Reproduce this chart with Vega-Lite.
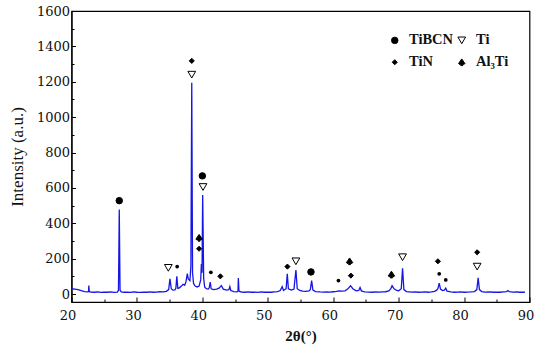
{
  "$schema": "https://vega.github.io/schema/vega-lite/v6.json",
  "width": 458,
  "height": 291,
  "autosize": {"type": "none"},
  "padding": {"left": 71.5, "top": 11, "right": 20.5, "bottom": 49},
  "background": "white",
  "config": {
    "font": "Liberation Serif",
    "view": {"stroke": "black", "strokeWidth": 1.2},
    "axis": {"domainColor": "black", "tickColor": "black", "labelColor": "#111", "titleColor": "#111", "labelFont": "DejaVu Serif", "titleFont": "Liberation Serif", "grid": false}
  },
  "datasets": {
    "xrd": [
      {"x": 20.0, "y": 30}, {"x": 20.5, "y": 28}, {"x": 21.0, "y": 25}, {"x": 21.5, "y": 19}, {"x": 22.0, "y": 14},
      {"x": 22.5, "y": 12}, {"x": 22.6, "y": 14}, {"x": 22.65, "y": 48}, {"x": 22.72, "y": 13}, {"x": 23.0, "y": 11},
      {"x": 23.5, "y": 10}, {"x": 24.0, "y": 12}, {"x": 24.5, "y": 9}, {"x": 25.0, "y": 11}, {"x": 25.5, "y": 10},
      {"x": 26.0, "y": 12}, {"x": 26.5, "y": 9}, {"x": 27.0, "y": 11}, {"x": 27.18, "y": 20}, {"x": 27.3, "y": 478},
      {"x": 27.42, "y": 22}, {"x": 27.6, "y": 12}, {"x": 28.0, "y": 10}, {"x": 28.5, "y": 11}, {"x": 29.0, "y": 9},
      {"x": 29.5, "y": 12}, {"x": 30.0, "y": 10}, {"x": 30.5, "y": 9}, {"x": 31.0, "y": 11}, {"x": 31.5, "y": 10},
      {"x": 32.0, "y": 12}, {"x": 32.5, "y": 10}, {"x": 33.0, "y": 11}, {"x": 33.5, "y": 13}, {"x": 34.0, "y": 12},
      {"x": 34.5, "y": 15}, {"x": 34.85, "y": 25}, {"x": 35.05, "y": 86}, {"x": 35.25, "y": 30}, {"x": 35.5, "y": 22},
      {"x": 35.8, "y": 24}, {"x": 35.95, "y": 32}, {"x": 36.1, "y": 100}, {"x": 36.25, "y": 32}, {"x": 36.5, "y": 35},
      {"x": 36.8, "y": 45}, {"x": 37.06, "y": 55}, {"x": 37.3, "y": 50}, {"x": 37.5, "y": 70}, {"x": 37.7, "y": 115},
      {"x": 37.85, "y": 85}, {"x": 38.1, "y": 75}, {"x": 38.25, "y": 160}, {"x": 38.38, "y": 1195}, {"x": 38.5, "y": 120},
      {"x": 38.65, "y": 60}, {"x": 38.9, "y": 45}, {"x": 39.2, "y": 40}, {"x": 39.5, "y": 45}, {"x": 39.75, "y": 80},
      {"x": 39.85, "y": 170}, {"x": 39.95, "y": 120}, {"x": 40.05, "y": 560}, {"x": 40.2, "y": 90}, {"x": 40.35, "y": 40},
      {"x": 40.6, "y": 30}, {"x": 40.9, "y": 28}, {"x": 41.05, "y": 35}, {"x": 41.2, "y": 67}, {"x": 41.35, "y": 30},
      {"x": 41.7, "y": 25}, {"x": 42.2, "y": 28}, {"x": 42.6, "y": 35}, {"x": 42.9, "y": 48}, {"x": 43.2, "y": 28},
      {"x": 43.7, "y": 22}, {"x": 44.05, "y": 25}, {"x": 44.2, "y": 42}, {"x": 44.35, "y": 20}, {"x": 44.8, "y": 14},
      {"x": 45.3, "y": 12}, {"x": 45.45, "y": 18}, {"x": 45.5, "y": 90}, {"x": 45.6, "y": 16}, {"x": 46.0, "y": 11},
      {"x": 46.5, "y": 10}, {"x": 47.0, "y": 12}, {"x": 47.5, "y": 10}, {"x": 48.0, "y": 11}, {"x": 48.5, "y": 9},
      {"x": 49.0, "y": 12}, {"x": 49.5, "y": 10}, {"x": 50.0, "y": 11}, {"x": 50.5, "y": 10}, {"x": 51.0, "y": 12},
      {"x": 51.5, "y": 14}, {"x": 51.9, "y": 20}, {"x": 52.2, "y": 42}, {"x": 52.4, "y": 20}, {"x": 52.8, "y": 30},
      {"x": 52.98, "y": 114}, {"x": 53.15, "y": 30}, {"x": 53.6, "y": 22}, {"x": 54.0, "y": 28}, {"x": 54.3, "y": 136},
      {"x": 54.5, "y": 30}, {"x": 54.9, "y": 20}, {"x": 55.3, "y": 16}, {"x": 55.8, "y": 15}, {"x": 56.3, "y": 18},
      {"x": 56.5, "y": 25}, {"x": 56.7, "y": 76}, {"x": 56.9, "y": 22}, {"x": 57.3, "y": 14}, {"x": 58.0, "y": 12},
      {"x": 58.5, "y": 11}, {"x": 59.0, "y": 12}, {"x": 59.5, "y": 11}, {"x": 60.0, "y": 13}, {"x": 60.5, "y": 15},
      {"x": 60.9, "y": 18}, {"x": 61.3, "y": 16}, {"x": 61.8, "y": 18}, {"x": 62.2, "y": 28}, {"x": 62.65, "y": 47},
      {"x": 63.0, "y": 30}, {"x": 63.5, "y": 18}, {"x": 63.9, "y": 20}, {"x": 64.1, "y": 37}, {"x": 64.3, "y": 18},
      {"x": 64.8, "y": 12}, {"x": 65.5, "y": 11}, {"x": 66.0, "y": 10}, {"x": 66.5, "y": 12}, {"x": 67.0, "y": 11},
      {"x": 67.5, "y": 12}, {"x": 68.0, "y": 13}, {"x": 68.5, "y": 18}, {"x": 68.8, "y": 30}, {"x": 69.0, "y": 47},
      {"x": 69.3, "y": 30}, {"x": 69.7, "y": 20}, {"x": 70.0, "y": 18}, {"x": 70.4, "y": 30}, {"x": 70.6, "y": 146},
      {"x": 70.8, "y": 25}, {"x": 71.2, "y": 14}, {"x": 72.0, "y": 11}, {"x": 72.5, "y": 12}, {"x": 73.0, "y": 10},
      {"x": 73.5, "y": 11}, {"x": 74.0, "y": 12}, {"x": 74.5, "y": 10}, {"x": 75.0, "y": 12}, {"x": 75.5, "y": 15},
      {"x": 75.8, "y": 22}, {"x": 76.0, "y": 30}, {"x": 76.2, "y": 62}, {"x": 76.4, "y": 28}, {"x": 76.7, "y": 20},
      {"x": 77.0, "y": 22}, {"x": 77.2, "y": 33}, {"x": 77.4, "y": 16}, {"x": 78.0, "y": 12}, {"x": 78.5, "y": 10},
      {"x": 79.0, "y": 11}, {"x": 79.5, "y": 12}, {"x": 80.0, "y": 10}, {"x": 80.5, "y": 11}, {"x": 81.0, "y": 12},
      {"x": 81.6, "y": 14}, {"x": 81.95, "y": 25}, {"x": 82.15, "y": 91}, {"x": 82.35, "y": 25}, {"x": 82.7, "y": 14},
      {"x": 83.2, "y": 11}, {"x": 84.0, "y": 12}, {"x": 84.5, "y": 10}, {"x": 85.0, "y": 11}, {"x": 85.5, "y": 10},
      {"x": 86.0, "y": 12}, {"x": 86.5, "y": 14}, {"x": 86.7, "y": 20}, {"x": 86.9, "y": 13}, {"x": 87.5, "y": 11},
      {"x": 88.0, "y": 12}, {"x": 88.5, "y": 10}, {"x": 89.0, "y": 11}, {"x": 89.3, "y": 10}
    ],
    "markers": [
      {"x": 27.3, "y": 528, "phase": "TiBCN", "weak": false},
      {"x": 34.8, "y": 148, "phase": "Ti", "weak": false},
      {"x": 36.15, "y": 155, "phase": "TiBCN", "weak": true},
      {"x": 38.38, "y": 1318, "phase": "TiN", "weak": false},
      {"x": 38.38, "y": 1240, "phase": "Ti", "weak": false},
      {"x": 39.5, "y": 318, "phase": "Al₃Ti", "weak": false},
      {"x": 39.5, "y": 256, "phase": "TiN", "weak": false},
      {"x": 40.0, "y": 668, "phase": "TiBCN", "weak": false},
      {"x": 40.1, "y": 605, "phase": "Ti", "weak": false},
      {"x": 41.3, "y": 123, "phase": "TiBCN", "weak": true},
      {"x": 42.75, "y": 100, "phase": "TiN", "weak": false},
      {"x": 53.0, "y": 155, "phase": "TiN", "weak": false},
      {"x": 54.3, "y": 185, "phase": "Ti", "weak": false},
      {"x": 56.6, "y": 125, "phase": "TiBCN", "weak": false},
      {"x": 60.8, "y": 76, "phase": "TiBCN", "weak": true},
      {"x": 62.5, "y": 185, "phase": "Al₃Ti", "weak": false},
      {"x": 62.7, "y": 104, "phase": "TiN", "weak": false},
      {"x": 68.9, "y": 110, "phase": "Al₃Ti", "weak": false},
      {"x": 70.6, "y": 208, "phase": "Ti", "weak": false},
      {"x": 76.0, "y": 185, "phase": "TiN", "weak": false},
      {"x": 76.2, "y": 114, "phase": "TiBCN", "weak": true},
      {"x": 77.2, "y": 80, "phase": "TiBCN", "weak": true},
      {"x": 82.0, "y": 236, "phase": "TiN", "weak": false},
      {"x": 82.0, "y": 155, "phase": "Ti", "weak": false}
    ]
  },
  "encoding": {
    "x": {
      "field": "x", "type": "quantitative",
      "scale": {"domain": [20, 90], "nice": false, "zero": false},
      "axis": {
        "title": "2θ(°)", "titleFontSize": 15, "titleFontWeight": "bold", "titlePadding": 6,
        "values": [20, 25, 30, 35, 40, 45, 50, 55, 60, 65, 70, 75, 80, 85, 90],
        "labelExpr": "datum.value % 10 === 0 ? datum.label : ''",
        "labelFontSize": 13, "labelPadding": 12, "labelFlush": false, "labelOffset": -4,
        "tickSize": {"condition": {"test": "datum.value % 10 === 0", "value": -5}, "value": -3},
        "domainWidth": 1.2
      }
    },
    "y": {
      "field": "y", "type": "quantitative",
      "scale": {"domain": [-45, 1600], "nice": false, "zero": false},
      "axis": {
        "title": "Intensity (a.u.)", "titleFontSize": 17, "titleFontWeight": "normal", "titlePadding": 10,
        "values": [0, 100, 200, 300, 400, 500, 600, 700, 800, 900, 1000, 1100, 1200, 1300, 1400, 1500, 1600],
        "labelExpr": "datum.value % 200 === 0 ? datum.value : ''",
        "labelFontSize": 13, "labelPadding": 6,
        "tickSize": {"condition": {"test": "datum.value % 200 === 0", "value": -4}, "value": -2.5},
        "domainWidth": 1.2
      }
    }
  },
  "layer": [
    {
      "data": {"name": "xrd"},
      "mark": {"type": "line", "color": "#1515e6", "strokeWidth": 1.3, "clip": true}
    },
    {
      "data": {"name": "markers"},
      "transform": [{"filter": "!datum.weak"}],
      "mark": {"type": "point", "filled": true, "stroke": "black", "strokeWidth": 1, "opacity": 1},
      "encoding": {
        "shape": {
          "field": "phase", "type": "nominal",
          "scale": {
            "domain": ["TiBCN", "TiN", "Ti", "Al₃Ti"],
            "range": ["circle", "diamond", "triangle-down", "M0,-1L0.95,0.4C0.75,0.75 0.3,0.7 0.12,0.5L0.3,1L-0.3,1L-0.12,0.5C-0.3,0.7 -0.75,0.75 -0.95,0.4Z"]
          },
          "legend": {
            "title": null, "orient": "none", "legendX": 316, "legendY": 22, "columns": 2,
            "labelFontSize": 14.5, "labelFontWeight": "bold", "labelFont": "Liberation Serif", "labelColor": "#111",
            "columnPadding": 1, "rowPadding": 7, "labelOffset": 7, "padding": 0,
            "symbolStrokeColor": "black", "symbolStrokeWidth": 1
          }
        },
        "fill": {
          "field": "phase", "type": "nominal",
          "scale": {"domain": ["TiBCN", "TiN", "Ti", "Al₃Ti"], "range": ["black", "black", "white", "black"]}
        },
        "size": {
          "field": "phase", "type": "nominal",
          "scale": {"type": "ordinal", "domain": ["TiBCN", "TiN", "Ti", "Al₃Ti"], "range": [42, 26, 60, 45]}
        }
      }
    },
    {
      "data": {"name": "markers"},
      "transform": [{"filter": "datum.weak"}],
      "mark": {"type": "circle", "color": "black", "size": 14, "opacity": 1}
    }
  ]
}
